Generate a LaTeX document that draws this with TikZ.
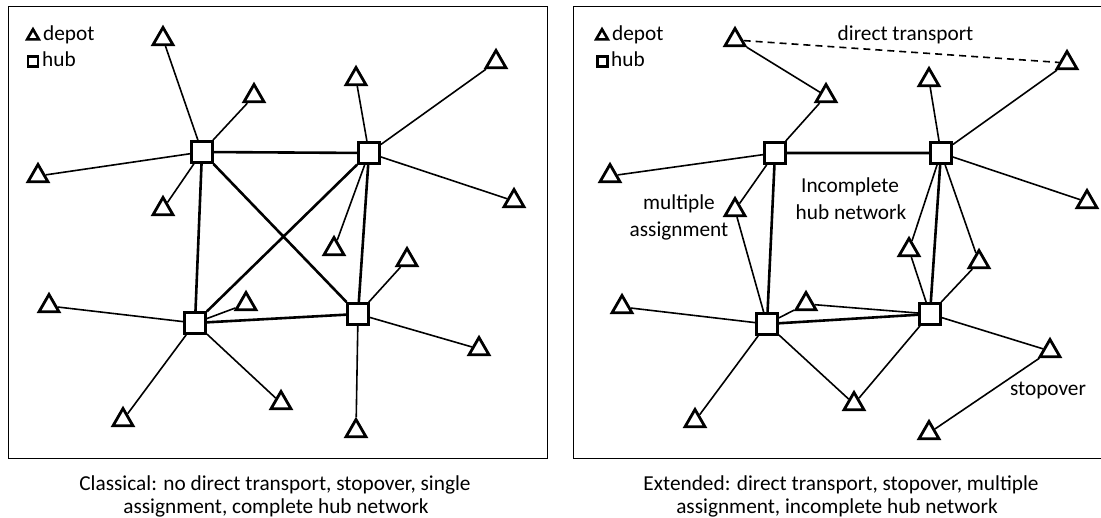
\documentclass[tikz,border=0pt]{standalone}
\usepackage{fontspec}
\setmainfont{Carlito}
\usetikzlibrary{shapes.geometric}
\begin{document}
\begin{tikzpicture}[x=1pt,y=-1pt,
  every node/.style={font=\fontsize{21.3}{23.4}\selectfont},
  depot/.style={regular polygon, regular polygon sides=3, draw, line width=2.8pt,
    minimum size=23pt, inner sep=0pt, fill=white},
  hub/.style={rectangle, draw, line width=2.8pt, minimum size=21pt,
    inner sep=0pt, fill=white},
  keydepot/.style={regular polygon, regular polygon sides=3, draw, line width=2.6pt,
    minimum size=13.5pt, inner sep=0pt},
  keyhub/.style={rectangle, draw, line width=2.4pt, minimum size=10pt, inner sep=0pt},
  feeder/.style={line width=1.6pt},
  trunk/.style={line width=2.6pt},
  direct/.style={line width=1.6pt, dash pattern=on 7pt off 5pt},
  label/.style={anchor=base, inner sep=0pt},
  frame/.style={line width=1pt}]
\useasboundingbox (0,0) rectangle (1101,518);

% ---------------- classical network ----------------
\draw[frame] (8,7) rectangle (547,459);
\node[keydepot] (kdA) at (33,36) {};
\node[label, anchor=base west] (ktA) at (43,41) {depot};
\node[keyhub] (khA) at (33,61.5) {};
\node[label, anchor=base west] (kthA) at (42,67) {hub};

\node[hub] (A) at (202,152) {};
\node[hub] (B) at (369,153) {};
\node[hub] (C) at (195,323) {};
\node[hub] (D) at (358,314) {};

\node[depot] (t1) at (163,39) {};
\node[depot] (t2) at (254,96) {};
\node[depot] (t3) at (38,176) {};
\node[depot] (t4) at (163,209) {};
\node[depot] (t5) at (356,79) {};
\node[depot] (t6) at (496,62) {};
\node[depot] (t7) at (514,201) {};
\node[depot] (t8) at (334,249) {};
\node[depot] (t9) at (407,260) {};
\node[depot] (t10) at (49,306) {};
\node[depot] (t11) at (246,304) {};
\node[depot] (t12) at (123,420) {};
\node[depot] (t13) at (281,403) {};
\node[depot] (t14) at (479,349) {};
\node[depot] (t15) at (356,431) {};

\draw[trunk] (A) -- (B) (A) -- (C) (A) -- (D) (B) -- (C) (B) -- (D) (C) -- (D);
\draw[feeder] (A) -- (t1) (A) -- (t2) (A) -- (t3) (A) -- (t4);
\draw[feeder] (B) -- (t5) (B) -- (t6) (B) -- (t7) (B) -- (t8);
\draw[feeder] (C) -- (t10) (C) -- (t11) (C) -- (t12) (C) -- (t13);
\draw[feeder] (D) -- (t9) (D) -- (t14) (D) -- (t15);

\node[label] (capA1) at (275,490) {Classical: no direct transport, stopover, single};
\node[label] (capA2) at (276,513) {assignment, complete hub network};

% ---------------- extended network ----------------
\draw[frame] (1101,7) -- (573,7) -- (573,459) -- (1101,459);
\node[keydepot] (kdB) at (602,36) {};
\node[label, anchor=base west] (ktB) at (612,41) {depot};
\node[keyhub] (khB) at (602.5,61.5) {};
\node[label, anchor=base west] (kthB) at (611,67) {hub};

\node[hub] (E) at (775,153) {};
\node[hub] (F) at (941,153) {};
\node[hub] (G) at (767,324) {};
\node[hub] (H) at (930,314) {};

\node[depot] (r1) at (735,40) {};
\node[depot] (r2) at (826,96) {};
\node[depot] (r3) at (610,176) {};
\node[depot] (r4) at (735,210) {};
\node[depot] (r5) at (929,80) {};
\node[depot] (r6) at (1067,63) {};
\node[depot] (r7) at (1087,202) {};
\node[depot] (r8) at (909,250) {};
\node[depot] (r9) at (979,262) {};
\node[depot] (r10) at (622,307) {};
\node[depot] (r11) at (806,304) {};
\node[depot] (r12) at (695,421) {};
\node[depot] (r13) at (854,404) {};
\node[depot] (r14) at (1050,351) {};
\node[depot] (r15) at (929,433) {};

\draw[trunk] (E) -- (F) (E) -- (G) (F) -- (H) (G) -- (H);
\draw[feeder] (r1) -- (r2);
\draw[direct] (r1) -- (r6);
\draw[feeder] (E) -- (r2) (E) -- (r3) (E) -- (r4);
\draw[feeder] (F) -- (r5) (F) -- (r6) (F) -- (r7) (F) -- (r8) (F) -- (r9);
\draw[feeder] (G) -- (r4) (G) -- (r10) (G) -- (r11) (G) -- (r12) (G) -- (r13);
\draw[feeder] (H) -- (r8) (H) -- (r9) (H) -- (r11) (H) -- (r13) (H) -- (r14);
\draw[feeder] (r14) -- (r15);

\node[label] (lDirect) at (905.5,41) {direct transport};
\node[label] (lMult1) at (679,210) {multiple};
\node[label] (lMult2) at (679,237) {assignment};
\node[label] (lInc1) at (850,193) {Incomplete};
\node[label] (lInc2) at (851,220) {hub network};
\node[label] (lStop) at (1048,396) {stopover};

\node[label] (capB1) at (841,490) {Extended: direct transport, stopover, multiple};
\node[label] (capB2) at (837,513) {assignment, incomplete hub network};
\end{tikzpicture}
\end{document}
